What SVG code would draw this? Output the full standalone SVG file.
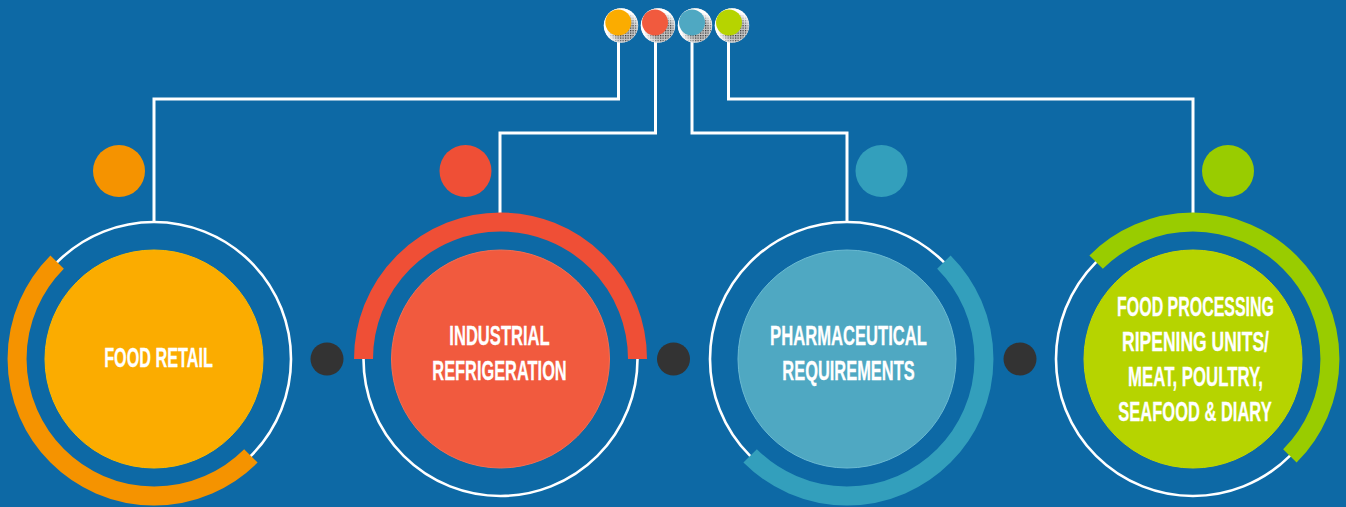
<svg xmlns="http://www.w3.org/2000/svg" width="1346" height="507" viewBox="0 0 1346 507">
<style>
.ring{fill:none;stroke:#fff;stroke-width:2.6}
.arc{fill:none;stroke-width:19}
.wire{fill:none;stroke:#fff;stroke-width:3}
.lbl{font-family:"Liberation Sans","Arial",sans-serif;font-weight:700;font-size:27.500px;fill:#fff;stroke:#fff;stroke-width:.3;text-anchor:middle}
.dark{fill:#333}
.halo{fill:#fff}
.ht{fill:url(#ht)}
</style>
<defs>
<pattern id="ht" width="2.5" height="2.5" patternUnits="userSpaceOnUse"><rect width="2.5" height="2.5" fill="#c4c4c4"/><rect width="1.25" height="1.25" fill="#333"/></pattern>
<radialGradient id="fade" cx="0.62" cy="0.64" r="0.52"><stop offset="0.5" stop-color="#fff" stop-opacity="0"/><stop offset="1" stop-color="#fff"/></radialGradient>
</defs>
<rect width="1346" height="507" fill="#0d69a5"/>
<g id="connectors">
<path class="wire" d="M618.500 40V99H154V222"/>
<path class="wire" d="M655.500 40V133H500V213"/>
<path class="wire" d="M692 40V133H847V222"/>
<path class="wire" d="M728.500 40V99H1193V213"/>
</g>
<g id="legend-orange"><circle class="halo" cx="621" cy="25.500" r="17"/><circle class="ht" cx="621" cy="25.500" r="17"/><circle cx="621" cy="25.500" r="17.300" fill="url(#fade)"/><circle cx="618.300" cy="22.500" r="13" fill="#fbac00"/></g>
<g id="legend-red"><circle class="halo" cx="658" cy="25.500" r="17"/><circle class="ht" cx="658" cy="25.500" r="17"/><circle cx="658" cy="25.500" r="17.300" fill="url(#fade)"/><circle cx="655" cy="22.500" r="13" fill="#f15a3e"/></g>
<g id="legend-blue"><circle class="halo" cx="695" cy="25.500" r="17"/><circle class="ht" cx="695" cy="25.500" r="17"/><circle cx="695" cy="25.500" r="17.300" fill="url(#fade)"/><circle cx="692" cy="22.500" r="13" fill="#4fa8c2"/></g>
<g id="legend-green"><circle class="halo" cx="732" cy="25.500" r="17"/><circle class="ht" cx="732" cy="25.500" r="17"/><circle cx="732" cy="25.500" r="17.300" fill="url(#fade)"/><circle cx="729" cy="22.500" r="13" fill="#b6d400"/></g>
<g id="node-food-retail">
<circle cx="119" cy="171" r="26" fill="#f59300"/>
<circle class="ring" cx="154" cy="359" r="137"/>
<path class="arc" stroke="#f59300" d="M57.130 262.130A130 130 0 0 0 250.870 455.870"/>
<circle cx="154" cy="359" r="109" fill="#fbac00" stroke="#fbb800" stroke-width="1"/>
<text class="lbl" transform="translate(158.500 367) scale(.59 1)">FOOD RETAIL</text>
</g>
<g id="node-industrial">
<circle cx="465.500" cy="171" r="26" fill="#ef4f36"/>
<circle class="ring" cx="500.500" cy="359" r="137"/>
<path class="arc" stroke="#ef4f36" d="M363.500 359A130 130 0 0 1 637.500 359"/>
<circle cx="500.500" cy="359" r="109" fill="#f15a3e" stroke="#f56d50" stroke-width="1"/>
<text class="lbl" transform="translate(499.500 345) scale(.603 1)">INDUSTRIAL</text>
<text class="lbl" transform="translate(499.500 380) scale(.596 1)">REFRIGERATION</text>
</g>
<g id="node-pharma">
<circle cx="881.500" cy="171" r="26" fill="#339fbc"/>
<circle class="ring" cx="847" cy="359" r="137"/>
<path class="arc" stroke="#339fbc" d="M943.870 262.130A130 130 0 0 1 750.130 455.870"/>
<circle cx="847" cy="359" r="109" fill="#4fa8c2" stroke="#6bbad2" stroke-width="1"/>
<text class="lbl" transform="translate(848.500 345) scale(.604 1)">PHARMACEUTICAL</text>
<text class="lbl" transform="translate(848.500 380) scale(.598 1)">REQUIREMENTS</text>
</g>
<g id="node-food-processing">
<circle cx="1228" cy="171" r="26" fill="#99cc00"/>
<circle class="ring" cx="1193" cy="359" r="137"/>
<path class="arc" stroke="#99cc00" d="M1096.130 262.130A130 130 0 0 1 1289.870 455.870"/>
<circle cx="1193" cy="359" r="109" fill="#b6d400" stroke="#c4d600" stroke-width="1"/>
<text class="lbl" transform="translate(1195.500 316) scale(.58 1)">FOOD PROCESSING</text>
<text class="lbl" transform="translate(1195.500 351) scale(.637 1)">RIPENING UNITS/</text>
<text class="lbl" transform="translate(1195.500 386) scale(.61 1)">MEAT, POULTRY,</text>
<text class="lbl" transform="translate(1195 421) scale(.6 1)">SEAFOOD &amp; DIARY</text>
</g>
<g id="sep-1"><circle class="dark" cx="327" cy="359" r="16.500"/></g>
<g id="sep-2"><circle class="dark" cx="673.500" cy="359" r="16.500"/></g>
<g id="sep-3"><circle class="dark" cx="1020" cy="359" r="16.500"/></g>
</svg>
